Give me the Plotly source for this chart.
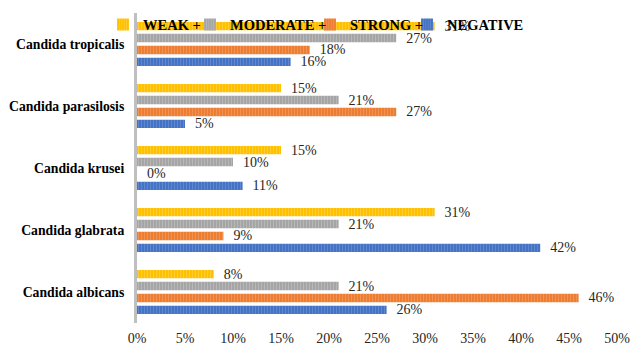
import plotly.graph_objects as go

categories = ["Candida albicans", "Candida glabrata", "Candida krusei",
              "Candida parasilosis", "Candida tropicalis"]
weak = [8, 31, 15, 15, 31]
moderate = [21, 21, 10, 21, 27]
strong = [46, 9, 0, 27, 18]
negative = [26, 42, 11, 5, 16]
x_ticks = [0, 5, 10, 15, 20, 25, 30, 35, 40, 45, 50]

# (name, values, colour, stripe colour, legend id, legend text start px)
series = [
    ("NEGATIVE", negative, "#4472C4", "#7A9BD6", "legend4", 447),
    ("STRONG +", strong, "#ED7D31", "#F4A777", "legend3", 350),
    ("MODERATE +", moderate, "#A5A5A5", "#C9C9C9", "legend2", 230),
    ("WEAK +", weak, "#FFC000", "#FFD966", "legend", 143),
]

serif = "Liberation Serif, Times New Roman, serif"
W, H = 632, 346

fig = go.Figure()
legends = {}
for name, vals, col, light, leg, tx in series:
    fig.add_trace(go.Bar(
        y=categories, x=vals, name=name, orientation="h", legend=leg,
        marker=dict(color=col, line=dict(width=0),
                    pattern=dict(shape="|", fgcolor=light, bgcolor=col,
                                 size=3, solidity=0.35)),
        text=[f"\u00a0\u00a0{v}%" for v in vals], textposition="outside",
        constraintext="none",
        textfont=dict(family=serif, size=14, color="#262626"),
        cliponaxis=False,
    ))
    legends[leg] = dict(orientation="h", xref="container", yref="container",
                        x=(tx - 40) / W, xanchor="left",
                        y=0.975, yanchor="top",
                        bgcolor="rgba(0,0,0,0)", itemwidth=30,
                        font=dict(family=serif, size=14.5, color="#000000",
                                  weight="bold"))

fig.update_layout(
    width=W, height=H,
    margin=dict(l=137, r=15, t=13, b=23, autoexpand=False),
    barmode="group", bargap=0.23, bargroupgap=0.3,
    plot_bgcolor="white", paper_bgcolor="white",
    showlegend=True,
    xaxis=dict(range=[0, 50], tickvals=x_ticks, automargin=False,
               ticktext=[f"{t}%" for t in x_ticks], ticklabelstandoff=5,
               showgrid=False, zeroline=False, showline=False,
               tickfont=dict(family=serif, size=14, color="#262626")),
    yaxis=dict(showgrid=False, zeroline=False, showline=True, automargin=False,
               linecolor="#BFBFBF", linewidth=3, ticks="",
               ticklabelstandoff=7,
               tickfont=dict(family=serif, size=13.7, color="#000000", weight="bold")),
)
fig.update_layout(**legends)

fig.write_html("out.html")
